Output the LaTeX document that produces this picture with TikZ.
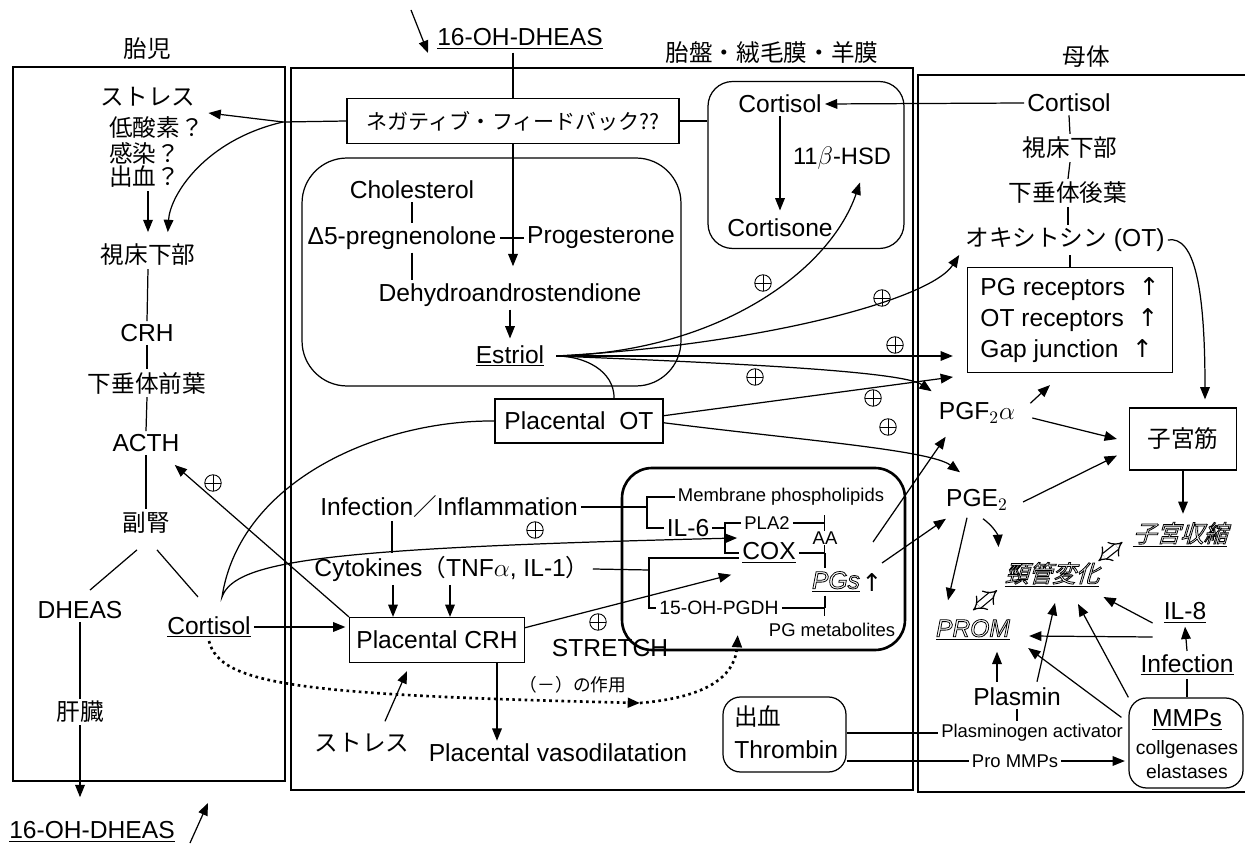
\documentclass[tikz,border=0pt]{standalone}
\usepackage{fontspec}
\setmainfont{Liberation Sans}
\newfontfamily\jp[Scale=0.96]{Noto Sans CJK JP}
\newfontfamily\jpsl[Scale=0.96,FakeSlant=0.3]{Noto Sans CJK JP}
\newfontfamily\symf{DejaVu Sans}
\usetikzlibrary{arrows.meta,positioning,calc}
\newcommand\hollow[1]{\special{pdf:literal direct 1 Tr 0.45 w}#1\special{pdf:literal direct 0 Tr}}

\begin{document}
\begin{tikzpicture}[x=0.02cm,y=-0.02cm,
font=\fontsize{14}{16}\selectfont,
line width=0.7pt,
every node/.style={inner sep=1.5pt},
sm/.style={font=\fontsize{10.5}{12}\selectfont},
box/.style={draw,inner sep=3pt},
rbox/.style={draw,rounded corners=#1},
rbox/.default=8pt,
arr/.style={-{Triangle[length=7pt,width=5.5pt]}},
inh/.style={-{Bar[width=9pt]}},
dotline/.style={dotted,line width=1.5pt},
dbl/.style={double,double distance=3pt,line width=0.7pt,{Implies}-{Implies}},
pl/.style={circle,draw,line width=0.5pt,minimum size=0.33cm,inner sep=0pt,
  path picture={\draw[line width=0.5pt] (path picture bounding box.north) -- (path picture bounding box.south)
  (path picture bounding box.west) -- (path picture bounding box.east);}}
]
\fill[white] (0,0) rectangle (1245,844);
\useasboundingbox (0,0) rectangle (1245,844);

\draw (13,67) rectangle (285,781);
\draw (291,68) rectangle (913,790);
\draw (1250,75) -- (918,75) -- (918,792) -- (1250,792);

\node (tFetus) at (147,49) {\jp 胎児};
\node (tPlac) at (772,53) {\jp 胎盤・絨毛膜・羊膜};
\node (tMom) at (1086,57) {\jp 母体};

% fetus
\node (fStress) at (148,97) {\jp ストレス};
\node[anchor=west] (fHypox) at (106,128) {\jp 低酸素？};
\node[anchor=west] (fInfect) at (106,153) {\jp 感染？};
\node[anchor=west] (fBleed) at (106,177) {\jp 出血？};
\node (fHypo) at (148,255) {\jp 視床下部};
\node (fCRH) at (147,333) {CRH};
\node (fAntPit) at (147,383) {\jp 下垂体前葉};
\node (fACTH) at (146,443) {ACTH};
\node (fAdr) at (146,523) {\jp 副腎};
\node (fDHEAS) at (80,610) {DHEAS};
\node (fCort) at (209,627) {\underline{Cortisol}};
\node (fOHD) at (92,832) {\underline{16-OH-DHEAS}};

\draw[arr,shorten >=5pt] (fBleed.south -| fHypo) -- (fHypo.north);
\draw (fHypo.south) -- (fCRH.north);
\draw (fCRH.south) -- (fAntPit.north);
\draw (fAntPit.south) -- (fACTH.north);
\draw (fACTH.south) -- (fAdr.north);
\draw ($(fAdr.south)+(-9,13)$) -- ($(fDHEAS.north)+(10,-8)$);
\draw ($(fAdr.south)+(11,13)$) -- ($(fCort.north)+(-11,-16)$);
\draw[arr,shorten >=12pt] (fDHEAS.south) -- (fDHEAS.south |- fOHD.north);
\node[fill=white] (fLiver) at (80,712) {\jp 肝臓};
\coordinate (outTail) at (190,843);
\coordinate (outHead) at (208,803);
\draw[arr] (outTail) -- (outHead);

% placenta
\node (pOHD) at (520,39) {\underline{16-OH-DHEAS}};
\coordinate (inTail) at (411,10);
\coordinate (inHead) at (428,53);
\draw[arr] (inTail) -- (inHead);
\node[box,minimum width=6.64cm,minimum height=0.9cm,font=\fontsize{12.5}{14}\selectfont] (pFB) at (513,121) {\jp ネガティブ・フィードバック??};
\coordinate (fbIn) at (283,122);
\draw (pOHD.south -| pFB.north) -- (pFB.north);
\draw (pFB.west) -- (fbIn);
\draw[arr] (fbIn) -- ($(fStress.east)+(10,16)$);
\draw[arr,shorten >=5pt] (fbIn) .. controls (205,140) and (170,195) .. ([xshift=11pt]fHypo.north);

\node[rbox=14pt,minimum width=3.92cm,minimum height=3.34cm] (cBox) at (806,165) {};
\node (cCort) at (780,104) {Cortisol};
\node (cCortn) at (780,228) {Cortisone};
\node[font=\fontsize{13.5}{15}\selectfont] (cHSD) at (842,158) {11$\beta$-HSD};
\draw[arr,shorten >=3pt] (cCort.south) -- (cCortn.north);
\draw (pFB.east) -- (pFB.east -| cBox.west);

\node[rbox=0.9cm,minimum width=7.58cm,minimum height=4.56cm] (sBox) at (491.5,272) {};
\node (sChol) at (412,190) {Cholesterol};
\node (sPreg) at (402,238) {Δ5-pregnenolone};
\node (sProg) at (601,238) {Progesterone};
\node (sDehyd) at (510,295) {Dehydroandrostendione};
\node (sEst) at (510,356) {\underline{Estriol}};
\draw (sChol.south) -- (sChol.south |- sPreg.north);
\draw (sChol.south |- sPreg.south) -- (sChol.south |- sDehyd.north);
\draw (sPreg.east) -- (sProg.west);
\draw[arr,shorten >=8pt] (pFB.south) -- (pFB.south |- sDehyd.north);
\draw[arr,shorten >=2pt] (sDehyd.south) -- (sEst.north);

\node[box,minimum width=3.36cm,minimum height=0.88cm] (pOT) at (579,421) {Placental\ \ OT};
\draw ([xshift=5pt]sEst.east) to[out=0,in=90] ([xshift=20pt]pOT.north);

% mother
\node (mCort) at (1069,103) {Cortisol};
\node (mHypo) at (1070,148) {\jp 視床下部};
\node (mPit) at (1068,193) {\jp 下垂体後葉};
\node (mOT) at (1065,240) {{\jp オキシトシン} (OT)};
\node[box,align=left,font=\fontsize{14}{17.6}\selectfont,minimum width=4.1cm,minimum height=2.1cm] (mRec) at (1070,320) {PG receptors\ \ {\symf ↑}\\OT receptors\ \ {\symf ↑}\\Gap junction\ \ {\symf ↑}};
\node[box,minimum width=2.14cm,minimum height=1.24cm] (mUter) at (1183,439) {\jp 子宮筋};
\node (mPGF) at (977,413) {PGF$_2\alpha$};
\node (mPGE) at (977,500) {PGE$_2$};
\node (mContr) at (1180,535) {\underline{\jpsl\hollow{子宮収縮}}};
\node (mCerv) at (1052,575) {\underline{\jpsl\hollow{頸管変化}}};
\node (mPROM) at (973,630) {\underline{\itshape\hollow{PROM}}};
\node (mIL8) at (1185,613) {\underline{IL-8}};
\node (mInfe) at (1187,665) {\underline{Infection}};
\node (mPlas) at (1017,697) {Plasmin};
\node[sm] (mPA) at (1032,733) {Plasminogen activator};
\node[sm] (mPro) at (1015,761) {Pro MMPs};
\node[rbox=10pt,minimum width=2.28cm,minimum height=1.8cm] (mMMP) at (1186,743) {};
\node (mMMPt) at (1187,720) {\underline{MMPs}};
\node[font=\fontsize{11}{12}\selectfont] (mColl) at (1187,750) {collgenases};
\node[font=\fontsize{11}{12}\selectfont] (mElas) at (1187,772) {elastases};

\draw[arr] (mCort.west) -- (cCort.east);
\draw (mCort.south) -- (mHypo.north);
\draw (mHypo.south) -- (mPit.north);
\draw (mPit.south) -- (mPit.south |- mOT.north);
\draw (mOT.south -| mRec.north) -- (mRec.north);
\draw[arr] (mOT.east) .. controls (1195,235) and (1205,290) .. ($(mUter.north)+(22,-8)$);
\draw[arr,shorten >=3pt] (mUter.south) -- (mUter.south |- mContr.north);
\draw[dbl] ($(mCerv.north east)+(-4,2)$) -- ++(24,-19);
\draw[dbl] ($(mPROM.north)+(0,-6)$) -- ++(24,-20);
\draw[arr] ($(mPGF.north east)+(12,4)$) -- ($(mRec.south)+(-20,12)$);
\draw[arr] ($(mPGF.east)+(14,5)$) -- ($(mUter.west)+(-12,0)$);
\draw[arr] ($(mPGE.east)+(12,2)$) -- ($(mUter.south west)+(-12,-15)$);
\draw[arr] ($(mPGE.south)+(-10,4)$) -- ($(mPROM.north)+(-25,-16)$);
\draw[arr] ($(mPGE.south)+(6,5)$) to[bend left=25] ($(mCerv.north west)+(-3,-12)$);
\draw[arr] (mInfe.north) -- (mIL8.south);
\draw (mInfe.south) -- (mInfe.south |- mMMP.north);
\draw[arr] ($(mIL8.west)+(-8,10)$) -- ($(mCerv.east)+(1,22)$);
\draw[arr] ($(mIL8.west)+(-8,24)$) -- ($(mPROM.east)+(16,6)$);
\draw (mPlas.south) -- (mPlas.south |- mPA.north);
\draw[arr] ($(mPlas.north)+(-20,-3)$) -- ($(mPROM.south)+(24,8)$);
\draw[arr] ($(mPlas.north)+(20,-3)$) -- ($(mCerv.south)+(3,12)$);
\draw[arr] ($(mMMP.north west)+(-7,20)$) -- ($(mPROM.east)+(15,18)$);
\draw[arr] (mMMP.north west) -- ($(mCerv.south)+(26,13)$);
\draw[arr,shorten >=2pt] (mPro.east) -- (mPro.east -| mMMP.west);

% estriol and placental OT effects
\draw[arr] ([xshift=5pt]sEst.east) .. controls (720,352) and (830,270) .. ($(cHSD.south)+(18,10)$);
\draw[arr] ([xshift=5pt]sEst.east) .. controls (760,345) and (930,300) .. ($(mOT.west)+(-3,15)$);
\draw[arr,shorten >=8pt] ([xshift=5pt]sEst.east) -- (sEst.east -| mRec.west);
\draw[arr] ([xshift=5pt]sEst.east) .. controls (700,362) and (900,370) .. ($(mPGF.north west)+(-4,-8)$);
\draw[arr,shorten >=8pt] ([yshift=3pt]pOT.east) -- ($(mRec.south west)+(0,2)$);
\draw[arr] ([yshift=-1pt]pOT.east) .. controls (800,440) and (930,450) .. ($(mPGE.north)+(-17,-14)$);
\node[pl] (plHSD) at (763,283) {};
\node[pl] (plOT) at (882,298) {};
\node[pl] (plGap) at (895,345) {};
\node[pl] (plPGF) at (755,377) {};
\node[pl] (plOTRec) at (873,398) {};
\node[pl] (plOTPGE) at (888,427) {};

% inflammation and PG synthesis
\node (pInf) at (449,507) {Infection{\jp ／}Inflammation};
\node (pCyt) at (452,569) {Cytokines{\jp （}TNF$\alpha$, IL-1{\jp ）}};
\node[box,minimum width=3.5cm,minimum height=0.9cm] (pCRH) at (437,640) {Placental CRH};
\node (pStretch) at (610,648) {STRETCH};
\node[rbox=0.6cm,line width=1.5pt,minimum width=5.66cm,minimum height=3.64cm] (pgBox) at (763.5,559) {};
\node[sm] (pgMem) at (781,497) {Membrane phospholipids};
\node (pgIL6) at (688,528) {IL-6};
\node[sm] (pgPLA) at (767,523) {PLA2};
\node[sm] (pgAA) at (825,538) {AA};
\node (pgCOX) at (769,553) {\underline{COX}};
\node (pgPGs) at (836,582) {\underline{\itshape\hollow{PGs}}};
\node (pgUp) at (872,582) {\symf ↑};
\node[font=\fontsize{11}{12}\selectfont] (pgPGDH) at (719,608) {15-OH-PGDH};
\node[sm] (pgMet) at (832,630) {PG metabolites};

\draw ($(pInf.south)+(-57,0)$) -- ($(pCyt.north)+(-60,0)$);
\draw[arr] ($(pCyt.south)+(-59,0)$) -- ($(pCRH.north)+(-44,0)$);
\draw[arr] ($(pCyt.south)+(-2,0)$) -- ($(pCRH.north)+(13,0)$);
\coordinate (brInf) at (647,507);
\coordinate (brIL) at (725,528);
\coordinate (brCyt) at (649,570);
\draw (pInf.east) -- (brInf);
\draw (pgMem.west) -| (brInf) |- (pgIL6.west);
\draw (pgIL6.east) -- (brIL);
\draw (pgPLA.west) -| (brIL) |- (pgCOX.west);
\draw (pCyt.east) -- (brCyt);
\draw ($(pgCOX.west)+(0,5)$) -| (brCyt) |- (pgPGDH.west);
\draw[inh] (pgPLA.east) -- (pgPLA.east -| pgAA);
\draw[inh] (pgCOX.east) -- (pgCOX.east -| pgAA);
\draw[inh] (pgPGDH.east) -- (pgPGDH.east -| pgAA);
\draw (pgCOX.east -| pgAA) -- (pgPGs.north -| pgAA);
\draw (pgPGs.south -| pgAA) -- (pgPGDH.east -| pgAA);
\draw[arr] ($(pgPGs)+(37,-40)$) -- ($(mPGF.south west)+(10,10)$);
\draw[arr] ($(pgPGs)+(46,-19)$) -- ($(mPGE.south west)+(3,5)$);

\draw[arr] (pOT.west) .. controls (380,420) and (240,480) .. (222,597) .. controls (235,560) and (330,548) .. ($(pgCOX.west)+(-2,-15)$);
\node[pl] (plCOX) at (535,530) {};
\draw[arr,shorten >=2pt] (fCort.east) -- (fCort.east -| pCRH.west);
\draw[arr] (pCRH.north west) -- ($(fACTH.south east)+(-8,10)$);
\node[pl] (plACTH) at (213,483) {};
\draw[arr] ([yshift=7pt]pCRH.east) -- ($(pgCOX.south west)+(-8,8)$);
\node[pl] (plCRH) at (598,622) {};

\node (pVaso) at (558,753) {Placental vasodilatation};
\node (pStress) at (362,743) {\jp ストレス};
\draw[arr] ($(pCRH.south)+(60,0)$) -- ($(pVaso.north)+(-61,0)$);
\draw[arr] ($(pStress.north)+(23,-9)$) -- ($(pCRH.south)+(-30,8)$);

\coordinate (dotMid) at (640,703);
\draw[dotline,arr] (fCort.south) .. controls (220,685) and (300,695) .. (dotMid);
\draw[dotline,arr] (dotMid) .. controls (700,698) and (735,680) .. ($(pgMet.west)+(-28,5)$);
\node[sm] (pNeg) at (573,685) {\jp （－）の作用};

\node[rbox=10pt,minimum width=2.46cm,minimum height=1.5cm] (tBox) at (784.5,734.5) {};
\node[anchor=west] (tBleed) at (731,717) {\jp 出血};
\node[anchor=west] (tThromb) at (731,750) {Thrombin};
\draw (tBox.east |- mPA.west) -- (mPA.west);
\draw (tBox.east |- mPro.west) -- (mPro.west);
\end{tikzpicture}
\end{document}
